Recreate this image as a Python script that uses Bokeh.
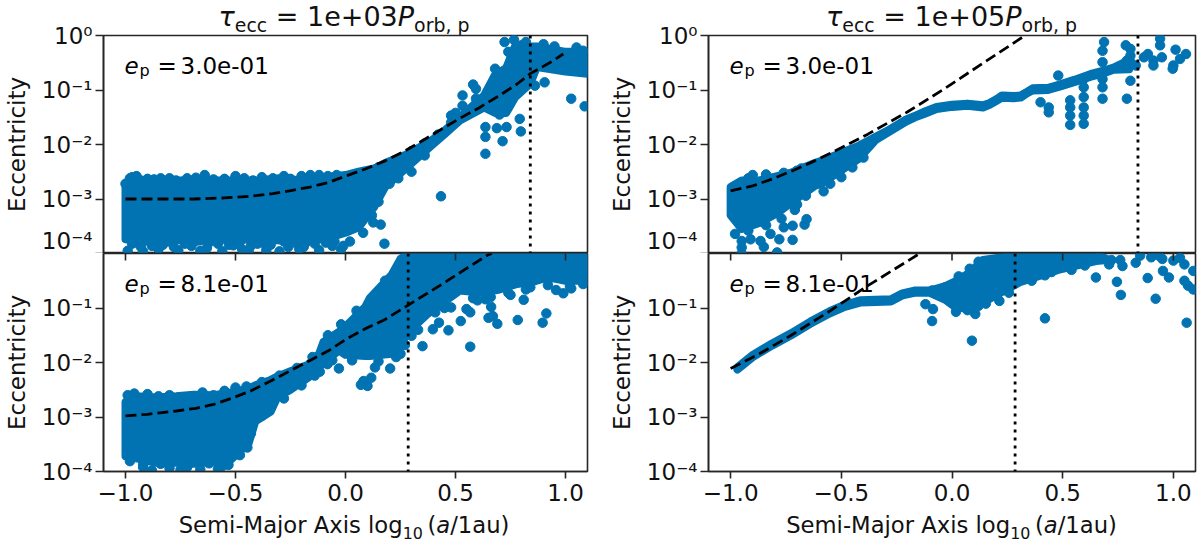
import numpy as np
from bokeh.plotting import figure
from bokeh.layouts import row, column
from bokeh.models import Label, FixedTicker, Span, Div
from bokeh.embed import file_html
from bokeh.resources import INLINE

# ---------- data (log10 eccentricity) ----------
a_body_x = [-1.0,-0.9,-0.8,-0.7,-0.6,-0.5,-0.4,-0.3,-0.2,-0.1,0.0,0.06,0.13,0.18,0.28,0.385,0.44,0.52,0.63,0.68,0.73,0.77,0.84,0.87,1.0,1.1]
a_body_hi = [-2.72,-2.66,-2.68,-2.64,-2.66,-2.66,-2.66,-2.62,-2.66,-2.6,-2.56,-2.5,-2.44,-2.34,-2.18,-1.94,-1.78,-1.5,-1.1,-0.72,-0.6,-0.2,-0.2,-0.2,-0.3,-0.3]
a_body_lo = [-3.74,-3.78,-3.72,-3.8,-3.74,-3.76,-3.72,-3.76,-3.74,-3.74,-3.62,-3.52,-3.15,-2.78,-2.42,-2.04,-1.85,-1.56,-1.32,-1.42,-1.42,-1.14,-0.88,-0.58,-0.66,-0.7]
a_pts_x = [-1.0,-0.98,-0.97,-0.95,-0.93,-0.9,-0.87,-0.84,-0.8,-0.77,-0.72,-0.68,-0.64,-0.6,-0.55,-0.5,-0.46,-0.42,-0.38,-0.33,-0.28,-0.25,-0.2,-0.16,-0.12,-0.08,-0.04,-0.99,-0.96,-0.92,-0.88,-0.85,-0.8,-0.76,-0.7,-0.66,-0.62,-0.56,-0.51,-0.47,-0.44,-0.4,-0.36,-0.3,-0.26,-0.21,-0.18,-0.12,-0.06,-0.02,0.434,0.636,0.714,0.797,0.636,0.636,0.688,0.732,0.792,1.026,1.087,0.905,0.861,0.532,0.532,0.593,0.593,0.48,0.177,0.16,0.126,0.723,0.766,0.68,0.68,0.654,0.654,0.62,0.66,0.7,0.74,0.8,0.9,0.95,1.05,1.08,0.82,0.74,0.7,0.58,-0.97,-0.93,-0.89,-0.83,-0.78,-0.73,-0.68,-0.63,-0.58,-0.53,-0.48,-0.43,-0.38,-0.34,-0.28,-0.23,-0.19,-0.14,-0.09,-0.05,-0.01,0.02,0.08,0.12,0.15,0.2,0.24,0.3,0.36,0.15,0.22,0.3,0.36,0.42,0.48,0.5]
a_pts_y = [-2.72,-2.62,-2.6,-2.58,-2.66,-2.63,-2.64,-2.62,-2.62,-2.66,-2.62,-2.61,-2.56,-2.64,-2.63,-2.58,-2.62,-2.66,-2.6,-2.62,-2.58,-2.63,-2.58,-2.56,-2.56,-2.58,-2.56,-3.95,-3.8,-3.96,-3.86,-3.92,-3.78,-3.94,-3.86,-3.95,-3.8,-3.96,-3.85,-3.92,-3.95,-3.82,-3.94,-3.96,-3.88,-3.92,-3.8,-3.94,-3.86,-3.92,-2.95,-2.17,-1.94,-1.76,-1.86,-1.68,-1.70,-1.68,-1.53,-1.16,-1.30,-0.86,-0.92,-1.10,-1.29,-0.98,-1.16,-1.47,-3.82,-3.47,-3.43,-0.12,-0.08,-0.61,-0.83,-1.13,-1.01,-1.2,-1.25,-0.7,-0.3,-0.18,-0.16,-0.2,-0.22,-0.28,-0.12,-1.3,-1.45,-0.9,-3.82,-3.88,-3.78,-3.84,-3.88,-3.82,-3.76,-3.9,-3.82,-3.84,-3.78,-3.86,-3.8,-3.84,-3.78,-3.8,-3.88,-3.82,-3.8,-3.78,-3.86,-3.78,-3.62,-3.3,-3.05,-2.72,-2.62,-2.5,-2.2,-2.42,-2.3,-2.12,-1.98,-1.82,-1.6,-1.42]
a_curve_x = [-1.0,-0.85,-0.69,-0.55,-0.43,-0.33,-0.255,-0.16,-0.08,0.0,0.09,0.18,0.26,0.35,0.44,0.52,0.61,0.7,0.78,0.84,0.92,0.99]
a_curve_y = [-3.0,-3.0,-3.0,-2.98,-2.95,-2.9,-2.85,-2.78,-2.7,-2.58,-2.45,-2.3,-2.14,-1.93,-1.71,-1.52,-1.32,-1.1,-0.89,-0.7,-0.52,-0.34]
a_vline = 0.84

b_body_x = [-1.0,-0.95,-0.86,-0.77,-0.69,-0.6,-0.53,-0.44,-0.41,-0.34,-0.31,-0.25,-0.17,-0.12,-0.1,-0.03,0.0,0.09,0.11,0.21,0.25,0.28,0.37,0.52,0.62,0.7,0.78,0.85,0.9,0.95,1.0,1.05,1.1]
b_body_hi = [-2.72,-2.62,-2.64,-2.62,-2.59,-2.6,-2.56,-2.48,-2.42,-2.32,-2.26,-2.16,-2.04,-1.84,-1.62,-1.44,-1.34,-0.98,-0.82,-0.39,-0.1,-0.02,-0.02,-0.02,-0.02,-0.02,-0.02,-0.02,-0.02,-0.02,-0.02,-0.02,-0.02]
b_body_lo = [-3.72,-3.76,-3.84,-3.84,-3.86,-3.82,-3.82,-3.48,-3.08,-2.9,-2.64,-2.5,-2.28,-2.1,-2.0,-1.78,-1.86,-1.88,-1.88,-1.84,-1.7,-1.46,-1.12,-0.68,-0.72,-0.66,-0.56,-0.52,-0.46,-0.46,-0.5,-0.5,-0.46]
b_pts_x = [0.567,0.35,0.27,0.30,0.397,0.468,0.524,0.425,0.408,0.48,0.55,0.567,0.65,0.67,0.69,0.783,0.896,0.913,0.662,0.60,0.636,0.81,0.75,0.82,0.99,1.026,0.957,0.203,0.134,0.117,0.082,0.10,0.07,-0.03,-0.082,-0.117,0.23,-0.532,-0.446,-0.98,-0.92,-0.88,-0.84,-0.8,-0.75,-0.72,-0.66,-0.62,-0.58,-0.99,-0.96,-0.93,-0.9,-0.85,-0.8,-0.76,-0.7,-0.65,-0.6,-0.55,-0.5,-0.45,-0.38,-0.3,-0.22,-0.15,-0.92,-0.72,-0.56,-0.48,-0.43,-0.38,-0.28,-0.2,-0.14,-0.06,0.03,0.15,0.25,0.33,0.45,0.58,0.66,0.74,0.84,0.92,1.02,1.08,-0.08,-0.02,0.05,0.14,0.18]
b_pts_y = [-1.71,-1.70,-1.68,-1.51,-1.39,-1.41,-1.24,-1.27,-1.08,-0.99,-1.02,-1.08,-1.18,-1.15,-1.29,-1.22,-1.27,-1.10,-0.98,-0.86,-0.84,-0.85,-0.76,-0.66,-0.73,-0.64,-0.67,-2.11,-2.09,-2.28,-2.34,-2.43,-2.41,-2.11,-2.03,-2.17,-1.9,-3.88,-3.56,-3.81,-3.92,-3.98,-3.86,-3.94,-3.97,-3.9,-3.96,-3.85,-3.95,-2.6,-2.57,-2.7,-2.58,-2.62,-2.6,-2.66,-2.62,-2.55,-2.6,-2.52,-2.46,-2.44,-2.36,-2.24,-2.1,-1.9,-3.88,-3.92,-3.9,-3.7,-3.3,-2.98,-2.66,-2.42,-2.24,-1.96,-1.96,-1.98,-1.84,-1.4,-1.0,-0.82,-0.8,-0.72,-0.62,-0.58,-0.6,-0.56,-1.5,-1.3,-1.05,-0.75,-0.5]
b_curve_x = [-1.0,-0.9,-0.77,-0.68,-0.6,-0.52,-0.43,-0.34,-0.255,-0.17,-0.08,0.0,0.09,0.18,0.28,0.36,0.44,0.54,0.65,0.665]
b_curve_y = [-2.98,-2.95,-2.89,-2.84,-2.77,-2.66,-2.52,-2.34,-2.16,-1.98,-1.79,-1.58,-1.38,-1.21,-0.96,-0.76,-0.56,-0.3,-0.02,0.0]
b_vline = 0.285

c_body_x = [-1.0,-0.95,-0.87,-0.79,-0.73,-0.62,-0.59,-0.48,-0.42,-0.345,-0.28,-0.207,-0.16,-0.12,-0.07,0.0,0.07,0.14,0.17,0.2,0.226,0.28,0.31,0.34,0.364,0.434,0.486,0.555,0.624,0.68,0.73,0.8]
c_body_hi = [-2.78,-2.66,-2.66,-2.58,-2.52,-2.34,-2.3,-2.12,-2.02,-1.86,-1.72,-1.54,-1.46,-1.39,-1.31,-1.27,-1.25,-1.28,-1.24,-1.17,-1.1,-1.11,-1.1,-1.03,-0.97,-0.96,-0.9,-0.81,-0.71,-0.65,-0.59,-0.45]
c_body_lo = [-3.3,-3.55,-3.44,-3.26,-3.08,-2.76,-2.72,-2.42,-2.26,-1.92,-1.76,-1.58,-1.49,-1.43,-1.35,-1.31,-1.29,-1.32,-1.27,-1.2,-1.14,-1.15,-1.14,-1.06,-1.01,-1.0,-0.94,-0.85,-0.76,-0.7,-0.63,-0.62]
c_pts_x = [0.40,0.437,0.437,0.534,0.534,0.534,0.534,0.595,0.595,0.595,0.595,0.595,0.595,0.68,0.68,0.68,0.79,0.48,0.687,0.68,0.68,0.785,0.806,0.806,0.806,0.79,0.806,0.94,0.94,0.948,1.01,1.057,1.03,1.0,0.997,0.885,0.91,0.867,0.91,0.83,-0.95,-0.95,-0.95,-0.98,-0.91,-0.865,-0.85,-0.82,-0.78,-0.72,-0.79,-0.666,-0.657,-0.72,-0.76,-0.58,-0.71,-0.9,-0.84,-0.7,-0.55,-0.92,-0.84,-0.77,-0.7,-0.66,-0.55,-0.5,-0.45,-0.4,-0.92,-0.84,-0.76,-0.68]
c_pts_y = [-1.225,-1.32,-1.41,-1.19,-1.32,-1.47,-1.64,-0.8,-0.95,-1.13,-1.32,-1.47,-1.62,-0.95,-1.16,-0.8,-1.16,-0.735,-0.12,-0.28,-0.49,-0.18,-0.245,-0.37,-0.49,-0.46,-0.83,-0.06,-0.18,-0.4,-0.26,-0.34,-0.43,-0.55,-0.61,-0.34,-0.46,-0.4,-0.55,-0.55,-3.89,-3.77,-4.0,-3.64,-3.74,-3.77,-3.88,-3.64,-3.74,-3.75,-3.98,-3.47,-3.37,-3.49,-3.52,-2.86,-3.2,-2.56,-2.55,-2.48,-2.28,-3.58,-3.48,-3.36,-3.1,-2.94,-2.72,-2.6,-2.42,-2.24,-2.62,-2.62,-2.52,-2.44]
c_curve_x = [-1.0,-0.9,-0.81,-0.72,-0.62,-0.5,-0.38,-0.2,-0.035,0.15,0.33]
c_curve_y = [-2.85,-2.76,-2.63,-2.48,-2.30,-2.06,-1.81,-1.40,-0.98,-0.48,0.0]
c_vline = 0.84

d_body_x = [-0.97,-0.9,-0.813,-0.726,-0.64,-0.553,-0.484,-0.415,-0.345,-0.276,-0.224,-0.17,-0.1,-0.03,0.02,0.08,0.14,0.31,0.48,0.65,0.7]
d_body_hi = [-2.09,-1.86,-1.65,-1.46,-1.25,-1.06,-0.94,-0.86,-0.85,-0.84,-0.73,-0.68,-0.68,-0.6,-0.5,-0.35,-0.12,-0.02,-0.02,-0.02,-0.1]
d_body_lo = [-2.13,-1.9,-1.69,-1.5,-1.29,-1.1,-0.98,-0.9,-0.89,-0.88,-0.77,-0.72,-0.72,-0.85,-1.0,-1.0,-0.9,-0.52,-0.3,-0.14,-0.12]
d_pts_x = [0.09,0.42,1.06,0.92,0.763,0.745,0.65,0.884,0.105,0.07,0.018,-0.086,-0.09,-0.12,0.214,0.153,0.257,1.05,1.066,1.09,0.98,0.953,0.71,0.77,0.76,0.83,0.9,1.0,1.05,1.09,0.935,0.66,0.85,0.72,0.95,1.03,-0.09,-0.03,0.04,0.1,0.3,0.45,0.6,0.0,0.06,0.12,0.2,0.26,0.36,0.42,0.54,0.6,0.03,0.08,0.12]
d_pts_y = [-1.6,-1.19,-1.27,-0.83,-0.76,-0.52,-0.44,-0.45,-1.11,-1.04,-1.07,-1.02,-1.24,-0.93,-0.87,-0.92,-0.72,-0.50,-0.59,-0.66,-0.44,-0.32,-0.2,-0.23,-0.12,-0.17,-0.07,-0.13,-0.2,-0.32,-0.04,-0.09,-0.04,-0.12,-0.1,-0.08,-0.68,-0.62,-0.56,-0.48,-0.48,-0.34,-0.2,-0.9,-1.0,-0.96,-0.78,-0.62,-0.5,-0.4,-0.3,-0.22,-0.42,-0.28,-0.15]
d_curve_x = [-1.0,-0.87,-0.73,-0.55,-0.38,-0.15]
d_curve_y = [-2.11,-1.84,-1.51,-1.05,-0.59,-0.01]
d_vline = 0.285

y_tick_vals = [1e-4, 1e-3, 1e-2, 1e-1, 1]
y_tick_text = ["10⁻⁴", "10⁻³", "10⁻²", "10⁻¹", "10⁰"]
x_tick_vals = [-1.0, -0.5, 0.0, 0.5, 1.0]
x_tick_text = ["−1.0", "−0.5", "0.0", "0.5", "1.0"]
y_label = "Eccentricity"
x_label_html = 'Semi-Major Axis log<sub style="font-size:70%;line-height:0">10</sub>&#8201;(<i>a</i>/1au)'
title_html = '<i>τ</i><sub style="font-size:70%;line-height:0">ecc</sub> = {}<i>P</i><sub style="font-size:70%;line-height:0">orb, p</sub>'

BLUE = "#0173B2"
FONT = "DejaVu Sans"
DARK = "#262626"
INK = "#111111"
COL_W = [601, 599]
FRAME_L = [101, 107]
FRAME_W = [486, 487]
TOP_H, BOT_H, OVER = 253, 303, 14
FS = "23px"
MARK = 9.5


def ptext(p, x, y, txt, size, italic=False):
    p.add_layout(Label(x=-1.1, y=1.0, x_offset=x, y_offset=y, text=txt, text_font=FONT,
                       text_font_size=f"{size}px", text_color="black",
                       text_font_style="italic" if italic else "normal",
                       text_baseline="alphabetic", text_align="left"))


def panel(col, top, bx, hi, lo, px, py, cx, cy, vline, ep):
    h = TOP_H if top else BOT_H
    p = figure(width=COL_W[col], height=h, output_backend="svg", toolbar_location=None,
               x_range=(-1.1, 1.1), y_range=(1e-4, 1), y_axis_type="log",
               x_axis_location="below")
    p.min_border_left = FRAME_L[col]
    p.min_border_right = COL_W[col] - FRAME_L[col] - FRAME_W[col]
    p.min_border_top = 35 if top else OVER
    p.min_border_bottom = 0 if top else BOT_H - OVER - 218
    p.background_fill_alpha = 0
    p.border_fill_alpha = 0
    p.grid.visible = False
    p.outline_line_color = DARK
    p.outline_line_width = 1.6
    p.outline_line_alpha = 1

    ya = p.yaxis[0]
    ya.ticker = FixedTicker(ticks=y_tick_vals if top else y_tick_vals[:-1])
    ya.major_label_overrides = dict(zip(y_tick_vals, y_tick_text))
    ya.axis_label = y_label
    ya.axis_label_text_font = FONT
    ya.axis_label_text_font_size = FS
    ya.axis_label_text_font_style = "normal"
    ya.axis_label_text_color = INK
    ya.axis_label_standoff = 9
    ya.major_label_text_font = FONT
    ya.major_label_text_font_size = FS
    ya.major_label_text_color = INK
    ya.minor_tick_line_color = None
    ya.major_tick_in = 0
    ya.major_tick_out = 8
    ya.major_tick_line_width = 1.6
    ya.major_tick_line_color = DARK
    ya.axis_line_color = DARK
    ya.axis_line_width = 1.6
    ya.major_label_standoff = 3

    xa = p.xaxis[0]
    xa.ticker = FixedTicker(ticks=x_tick_vals)
    xa.minor_tick_line_color = None
    if top:
        xa.visible = False
    else:
        xa.major_label_overrides = dict(zip(x_tick_vals, x_tick_text))
        xa.major_label_text_font = FONT
        xa.major_label_text_font_size = FS
        xa.major_label_text_color = INK
        xa.major_tick_in = 0
        xa.major_tick_out = 7
        xa.major_tick_line_width = 1.6
        xa.major_tick_line_color = DARK
        xa.axis_line_color = DARK
        xa.axis_line_width = 1.6
        xa.major_label_standoff = 5

    by = 10.0 ** np.array(hi)
    bl = 10.0 ** np.array(lo)
    p.patch(list(bx) + list(bx)[::-1], list(by) + list(bl)[::-1], fill_color=BLUE,
            line_color=BLUE, line_width=8, line_join="round")
    p.scatter(px, 10.0 ** np.array(py), size=MARK, color=BLUE)
    p.line(cx, 10.0 ** np.array(cy), line_color="black", line_width=2.8, line_dash="11 5")
    p.add_layout(Span(location=vline, dimension="height", line_color="black", line_width=2.8, line_dash="3 5"))
    if not top:
        # the upper panel's x ticks, which hang into this panel
        p.scatter(x_tick_vals, [1.0] * len(x_tick_vals), marker="dash", angle=np.pi / 2,
                  size=14, line_color=DARK, line_width=1.6)

    y = -30
    ptext(p, 21, y, "e", 23, True)
    ptext(p, 36, y - 5, "p", 16)
    ptext(p, 54, y, "=", 23)
    ptext(p, 77, y, ep, 23)
    return p


def text_div(html, col, size, height, margin):
    return Div(text=html, width=COL_W[col], height=height, margin=margin,
               styles={"font-family": FONT, "font-size": size, "color": INK,
                       "text-align": "center", "white-space": "nowrap", "line-height": f"{height}px",
                       "padding-left": f"{2 * FRAME_L[col] + FRAME_W[col] - COL_W[col]}px",
                       "width": f"{COL_W[col]}px", "box-sizing": "border-box"})


A = panel(0, True, a_body_x, a_body_hi, a_body_lo, a_pts_x, a_pts_y, a_curve_x, a_curve_y, a_vline, "3.0e-01")
B = panel(0, False, b_body_x, b_body_hi, b_body_lo, b_pts_x, b_pts_y, b_curve_x, b_curve_y, b_vline, "8.1e-01")
C = panel(1, True, c_body_x, c_body_hi, c_body_lo, c_pts_x, c_pts_y, c_curve_x, c_curve_y, c_vline, "3.0e-01")
D = panel(1, False, d_body_x, d_body_hi, d_body_lo, d_pts_x, d_pts_y, d_curve_x, d_curve_y, d_vline, "8.1e-01")
for f in (A, C):
    f.margin = (-34, 0, 0, 0)
for f in (B, D):
    f.margin = (-OVER, 0, 0, 0)

TITLE_FS = "27px"
XL_FS = "22.7px"
col0 = column(text_div(title_html.format("1e+03"), 0, TITLE_FS, 34, (0, 0, 0, 0)), A, B,
              text_div(x_label_html, 0, XL_FS, 34, (-34, 0, 0, 0)), spacing=0)
col1 = column(text_div(title_html.format("1e+05"), 1, TITLE_FS, 34, (0, 0, 0, 0)), C, D,
              text_div(x_label_html, 1, XL_FS, 34, (-34, 0, 0, 0)), spacing=0)
layout = row(col0, col1, spacing=0)
open("out.html", "w").write(file_html(layout, INLINE))
